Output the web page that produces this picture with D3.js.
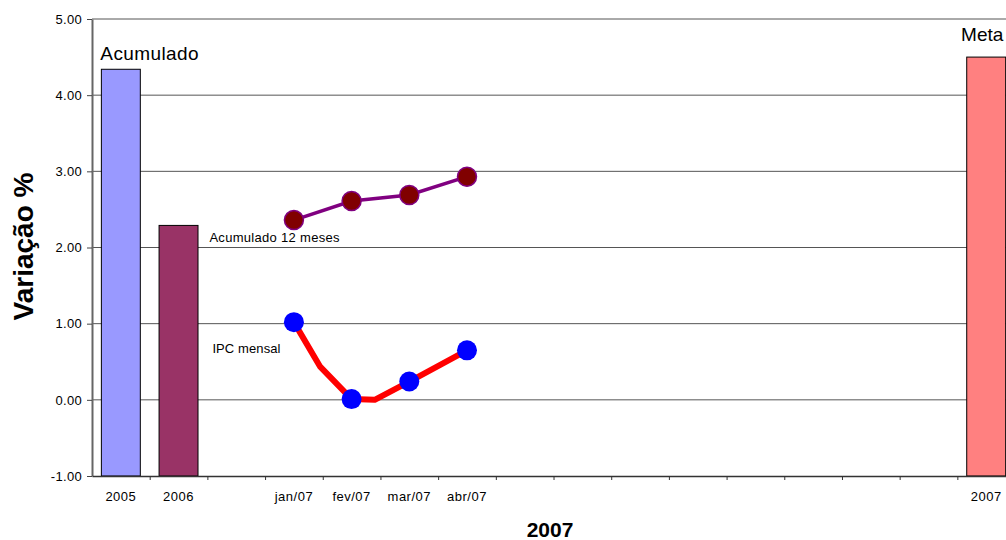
<!DOCTYPE html>
<html>
<head>
<meta charset="utf-8">
<script src="https://cdn.jsdelivr.net/npm/d3@7"></script>
<style>
  body { margin: 0; background: #fff; }
  text { font-family: Arial, "Liberation Sans", sans-serif; }
</style>
</head>
<body>
<svg id="chart" width="1006" height="540"></svg>
<script>
// Category slots along the x axis (blank slots keep the spacing)
const categories = ["2005", "2006", "", "jan/07", "fev/07", "mar/07", "abr/07", "", "", "", "", "", "", "", "", "2007"];

// Yearly bars: accumulated 2005, 2006 and the 2007 target
const barCategories = ["2005", "2006", "2007"];
const barValues = [4.34, 2.29, 4.50];
const barColors = ["#9999FF", "#993366", "#FF8080"];

// Monthly series for 2007
const months = ["jan/07", "fev/07", "mar/07", "abr/07"];
const acum12Values = [2.36, 2.61, 2.69, 2.93];
const ipcMensalValues = [1.02, 0.01, 0.24, 0.65];

// Red IPC trace: position in months after jan/07 and value
const ipcTraceOffsets = [0, 0.45, 1, 1.4, 2, 3];
const ipcTraceValues = [1.02, 0.44, 0.01, 0.00, 0.24, 0.65];

// Y axis ticks
const yTicks = [-1, 0, 1, 2, 3, 4, 5];
const yTickLabels = ["-1.00", "0.00", "1.00", "2.00", "3.00", "4.00", "5.00"];

(function () {
  const svg = d3.select("#chart");
  const W = 1006;
  const plotLeft = 92, plotTop = 19, plotBottom = 476;
  const step = 57.69;

  const x = d3.scaleBand()
    .domain(d3.range(categories.length))
    .range([plotLeft, plotLeft + categories.length * step])
    .padding(0);
  const xEdge = d3.scaleLinear()
    .domain([0, categories.length])
    .range(x.range());
  const y = d3.scaleLinear().domain([-1, 5]).range([plotBottom, plotTop]);

  const center = name => x(categories.indexOf(name)) + x.bandwidth() / 2;
  const xm = d3.scaleLinear().domain([0, 1]).range([center(months[0]), center(months[1])]);

  // Horizontal gridlines
  svg.append("g")
    .selectAll("line")
    .data(yTicks.filter(v => v > -1))
    .join("line")
    .attr("x1", plotLeft).attr("x2", W)
    .attr("y1", d => y(d)).attr("y2", d => y(d))
    .attr("stroke", "#555")
    .attr("stroke-width", 1);

  // Bars
  const barFrac = 0.675;
  svg.append("g")
    .selectAll("rect")
    .data(barCategories.map((c, i) => ({ c, v: barValues[i], color: barColors[i] })))
    .join("rect")
    .attr("x", d => center(d.c) - x.bandwidth() * barFrac / 2)
    .attr("width", x.bandwidth() * barFrac)
    .attr("y", d => y(d.v))
    .attr("height", d => y(-1) - y(d.v))
    .attr("fill", d => d.color)
    .attr("stroke", "#000")
    .attr("stroke-width", 1);

  // Y axis
  const yAxis = svg.append("g")
    .attr("transform", `translate(${plotLeft},0)`)
    .call(d3.axisLeft(y).tickValues(yTicks).tickFormat((d, i) => yTickLabels[i])
      .tickSize(5).tickSizeOuter(0).tickPadding(5));
  yAxis.select(".domain").attr("stroke", "#666").attr("stroke-width", 2);
  yAxis.selectAll(".tick line").attr("stroke", "#444");
  yAxis.selectAll("text").attr("font-size", 13).attr("fill", "#000")
    .attr("font-family", "Arial, 'Liberation Sans', sans-serif")
    .style("letter-spacing", "0.3px");

  // X axis: tick marks on category edges
  const xTicks = svg.append("g")
    .attr("transform", `translate(0,${plotBottom})`)
    .call(d3.axisBottom(xEdge).tickValues(d3.range(1, categories.length)).tickFormat("")
      .tickSize(4).tickSizeOuter(0));
  xTicks.select(".domain").attr("stroke", "#333").attr("stroke-width", 1.5);
  xTicks.selectAll(".tick line").attr("stroke", "#333");

  // X axis: labels centred in category slots
  const xLabels = svg.append("g")
    .attr("transform", `translate(0,${plotBottom})`)
    .call(d3.axisBottom(x).tickFormat(i => categories[i]).tickSize(0).tickPadding(16));
  xLabels.select(".domain").remove();
  xLabels.selectAll("text").attr("font-size", 13).attr("fill", "#000")
    .attr("font-family", "Arial, 'Liberation Sans', sans-serif")
    .style("letter-spacing", "0.5px");

  // Accumulated 12 months line
  svg.append("path")
    .datum(months.map((m, i) => [center(m), y(acum12Values[i])]))
    .attr("d", d3.line())
    .attr("fill", "none")
    .attr("stroke", "#800080")
    .attr("stroke-width", 3.5);

  // Monthly IPC trace
  svg.append("path")
    .datum(ipcTraceOffsets.map((o, i) => [xm(o), y(ipcTraceValues[i])]))
    .attr("d", d3.line())
    .attr("fill", "none")
    .attr("stroke", "#FF0000")
    .attr("stroke-width", 6)
    .attr("stroke-linejoin", "round");

  // Markers
  svg.append("g")
    .selectAll("circle")
    .data(months.map((m, i) => ({ m, v: acum12Values[i] })))
    .join("circle")
    .attr("cx", d => center(d.m))
    .attr("cy", d => y(d.v))
    .attr("r", 9.5)
    .attr("fill", "#800000")
    .attr("stroke", "#800080")
    .attr("stroke-width", 1.5);

  svg.append("g")
    .selectAll("circle")
    .data(months.map((m, i) => ({ m, v: ipcMensalValues[i] })))
    .join("circle")
    .attr("cx", d => center(d.m))
    .attr("cy", d => y(d.v))
    .attr("r", 10)
    .attr("fill", "#0000FF");

  // Annotations
  svg.append("text")
    .attr("x", center("2005") - x.bandwidth() * barFrac / 2 - 1)
    .attr("y", y(barValues[0]) - 9)
    .attr("font-size", 19)
    .style("letter-spacing", "0.4px")
    .text("Acumulado");

  svg.append("text")
    .attr("x", center("2007") - 4)
    .attr("y", y(barValues[2]) - 16)
    .attr("text-anchor", "middle")
    .attr("font-size", 19)
    .text("Meta");

  svg.append("text")
    .attr("x", x(2) + 2)
    .attr("y", y(2) - 6)
    .attr("font-size", 13)
    .style("letter-spacing", "0.3px")
    .text("Acumulado 12 meses");

  svg.append("text")
    .attr("x", x(2) + 5)
    .attr("y", y(1) + 29)
    .attr("font-size", 13)
    .style("letter-spacing", "0.1px")
    .text("IPC mensal");

  // Axis titles
  svg.append("text")
    .attr("x", 550)
    .attr("y", 537)
    .attr("text-anchor", "middle")
    .attr("font-size", 21)
    .attr("font-weight", "bold")
    .text("2007");

  svg.append("text")
    .attr("transform", "translate(33,246.5) rotate(-90)")
    .attr("text-anchor", "middle")
    .attr("font-size", 28)
    .attr("font-weight", "bold")
    .text("Variação %");
})();
</script>
</body>
</html>
